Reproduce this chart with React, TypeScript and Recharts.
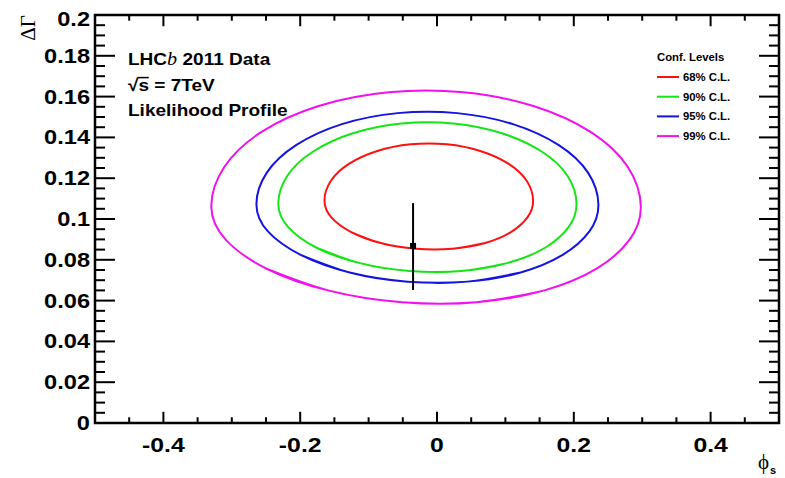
import React from 'react';
import {
  ComposedChart,
  Line,
  Scatter,
  XAxis,
  YAxis,
  ReferenceLine,
  ReferenceArea,
  ErrorBar,
} from 'recharts';

// ---- contour points (phi_s, DeltaGamma) for each confidence level ----
// Each loop is traced once around and then runs a few points past its start,
// so the smooth curve has no visible seam where it closes.
const contour68: [number, number][] = [
  [-0.1255, 0.0936], [-0.0823, 0.0882], [-0.0307, 0.0854], [0.0223, 0.0854],
  [0.0703, 0.0882], [0.1081, 0.0936], [0.1322, 0.1008], [0.1405, 0.109],
  [0.1313, 0.1186], [0.1048, 0.127], [0.0643, 0.1332], [0.0145, 0.1366],
  [-0.0385, 0.1366], [-0.0883, 0.1332], [-0.1288, 0.127], [-0.1553, 0.1186],
  [-0.1645, 0.109], [-0.1544, 0.1008], [-0.1255, 0.0936], [-0.0823, 0.0882],
  [-0.0307, 0.0854], [0.0223, 0.0854], [0.0703, 0.0882],
];
const contour90: [number, number][] = [
  [-0.176, 0.0859], [-0.114, 0.0785], [-0.0403, 0.0745], [0.0355, 0.0745],
  [0.104, 0.0785], [0.158, 0.0859], [0.1924, 0.096], [0.204, 0.1074],
  [0.191, 0.1211], [0.153, 0.1331], [0.095, 0.142], [0.0239, 0.1468],
  [-0.0519, 0.1468], [-0.123, 0.142], [-0.181, 0.1331], [-0.219, 0.1211],
  [-0.232, 0.1074], [-0.2176, 0.096], [-0.176, 0.0859], [-0.114, 0.0785],
  [-0.0403, 0.0745], [0.0355, 0.0745], [0.104, 0.0785],
];
const contour95: [number, number][] = [
  [-0.1993, 0.0824], [-0.1277, 0.0738], [-0.0429, 0.0693], [0.0441, 0.0693],
  [0.1223, 0.0738], [0.1837, 0.0824], [0.2228, 0.0939], [0.236, 0.107],
  [0.221, 0.1226], [0.1775, 0.1363], [0.111, 0.1465], [0.0295, 0.1519],
  [-0.0575, 0.1519], [-0.139, 0.1465], [-0.2055, 0.1363], [-0.249, 0.1226],
  [-0.264, 0.107], [-0.2472, 0.0939], [-0.1993, 0.0824], [-0.1277, 0.0738],
  [-0.0429, 0.0693], [0.0441, 0.0693], [0.1223, 0.0738],
];
const contour99: [number, number][] = [
  [-0.2482, 0.0755], [-0.158, 0.0649], [-0.0512, 0.0592], [0.058, 0.0592],
  [0.156, 0.0649], [0.2328, 0.0755], [0.2813, 0.0898], [0.298, 0.106],
  [0.279, 0.1255], [0.2245, 0.1427], [0.141, 0.1554], [0.0386, 0.1621],
  [-0.0706, 0.1621], [-0.173, 0.1554], [-0.2565, 0.1427], [-0.311, 0.1255],
  [-0.33, 0.106], [-0.3087, 0.0898], [-0.2482, 0.0755], [-0.158, 0.0649],
  [-0.0512, 0.0592], [0.058, 0.0592], [0.156, 0.0649],
];

const levelLabels = ['68% C.L.', '90% C.L.', '95% C.L.', '99% C.L.'];
const levelColors = ['#ff1010', '#14e614', '#1414e0', '#f010f0'];
const levelContours = [contour68, contour90, contour95, contour99];

// ---- best fit point with its DeltaGamma uncertainty ----
const bestPhi = [-0.035];
const bestDGamma = [0.0868];
const errDown = [0.0216];
const errUp = [0.021];

// ---- axis ticks ----
const xLabelTicks = [-0.4, -0.2, 0, 0.2, 0.4];
const xTickMarks = [
  -0.45, -0.4, -0.35, -0.3, -0.25, -0.2, -0.15, -0.1, -0.05, 0,
  0.05, 0.1, 0.15, 0.2, 0.25, 0.3, 0.35, 0.4, 0.45,
];
const yLabelTicks = [0, 0.02, 0.04, 0.06, 0.08, 0.1, 0.12, 0.14, 0.16, 0.18, 0.2];
const yTickMarks = [
  0.005, 0.01, 0.015, 0.02, 0.025, 0.03, 0.035, 0.04, 0.045, 0.05,
  0.055, 0.06, 0.065, 0.07, 0.075, 0.08, 0.085, 0.09, 0.095, 0.1,
  0.105, 0.11, 0.115, 0.12, 0.125, 0.13, 0.135, 0.14, 0.145, 0.15,
  0.155, 0.16, 0.165, 0.17, 0.175, 0.18, 0.185, 0.19, 0.195,
];

const X_MIN = -0.5;
const X_MAX = 0.5;
const Y_MIN = 0;
const Y_MAX = 0.2;

const W = 785;
const H = 478;
const SANS = '"Liberation Sans", Arial, Helvetica, sans-serif';
const SERIF = '"Liberation Serif", "Times New Roman", serif';
const STRETCH = 1.18;

// tick lengths in data units
const X_TICK_MAJOR = 0.0055;
const X_TICK_MINOR = 0.0028;
const Y_TICK_MAJOR = 0.0292;
const Y_TICK_MINOR = 0.0146;

const series = levelLabels.map((name, i) => ({
  name,
  color: levelColors[i],
  data: levelContours[i].map(([x, y]) => ({ x, y })),
}));

const pointData = bestPhi.map((x, i) => ({
  x,
  y: bestDGamma[i],
  err: [errDown[i], errUp[i]],
}));

const XTick = (props: any) => {
  const { x, y, payload } = props;
  return (
    <g transform={`translate(${x},${y + 29}) scale(${STRETCH},1)`}>
      <text x={0} y={0} textAnchor="middle" fontFamily={SANS} fontWeight="bold" fontSize={21} fill="#000">
        {String(payload.value)}
      </text>
    </g>
  );
};

const YTick = (props: any) => {
  const { x, y, payload } = props;
  const dy = payload.value === Y_MAX ? 11 : 7;
  return (
    <g transform={`translate(${x - 5},${y + dy}) scale(${STRETCH},1)`}>
      <text x={0} y={0} textAnchor="end" fontFamily={SANS} fontWeight="bold" fontSize={20} fill="#000">
        {String(payload.value)}
      </text>
    </g>
  );
};

const renderSquare = (props: any) => {
  const { cx, cy } = props;
  return <rect x={cx - 3} y={cy - 3} width={6} height={6} fill="#000" />;
};

export default function App() {
  const tickLines: React.ReactNode[] = [];
  xTickMarks.forEach((v) => {
    const len = xLabelTicks.includes(v) ? X_TICK_MAJOR : X_TICK_MINOR;
    tickLines.push(
      <ReferenceLine key={`xb${v}`} ifOverflow="visible" stroke="#000" strokeWidth={2}
        segment={[{ x: v, y: Y_MIN }, { x: v, y: Y_MIN + len }]} />,
      <ReferenceLine key={`xt${v}`} ifOverflow="visible" stroke="#000" strokeWidth={2}
        segment={[{ x: v, y: Y_MAX }, { x: v, y: Y_MAX - len }]} />
    );
  });
  yTickMarks.forEach((v) => {
    const len = yLabelTicks.includes(v) ? Y_TICK_MAJOR : Y_TICK_MINOR;
    tickLines.push(
      <ReferenceLine key={`yl${v}`} ifOverflow="visible" stroke="#000" strokeWidth={2}
        segment={[{ x: X_MIN, y: v }, { x: X_MIN + len, y: v }]} />,
      <ReferenceLine key={`yr${v}`} ifOverflow="visible" stroke="#000" strokeWidth={2}
        segment={[{ x: X_MAX, y: v }, { x: X_MAX - len, y: v }]} />
    );
  });

  return (
    <div style={{ position: 'absolute', left: 0, top: 0, width: W, height: H, background: '#fff' }}>
      <ComposedChart width={W} height={H} margin={{ top: 15, right: 6, bottom: 0, left: 0 }}>
        <XAxis
          type="number"
          dataKey="x"
          domain={[X_MIN, X_MAX]}
          ticks={xLabelTicks}
          interval={0}
          tick={<XTick />}
          tickLine={false}
          axisLine={false}
          tickSize={0}
          tickMargin={0}
          height={55}
          allowDataOverflow
        />
        <YAxis
          type="number"
          dataKey="y"
          domain={[Y_MIN, Y_MAX]}
          ticks={yLabelTicks}
          interval={0}
          tick={<YTick />}
          tickLine={false}
          axisLine={false}
          tickSize={0}
          tickMargin={0}
          width={95}
          allowDataOverflow
        />
        {series.map((s) => (
          <Line
            key={s.name}
            name={s.name}
            data={s.data}
            dataKey="y"
            type="natural"
            stroke={s.color}
            strokeWidth={2}
            dot={false}
            activeDot={false}
            isAnimationActive={false}
          />
        ))}
        <Scatter data={pointData} dataKey="y" shape={renderSquare} isAnimationActive={false}>
          <ErrorBar dataKey="err" direction="y" width={0} stroke="#000" strokeWidth={2} />
        </Scatter>
        {tickLines}
        <ReferenceArea
          x1={X_MIN}
          x2={X_MAX}
          y1={Y_MIN}
          y2={Y_MAX}
          ifOverflow="visible"
          fill="none"
          fillOpacity={0}
          stroke="#000"
          strokeWidth={2.5}
        />
      </ComposedChart>
      <svg
        width={W}
        height={H}
        style={{ position: 'absolute', left: 0, top: 0, pointerEvents: 'none' }}
      >
        {/* axis titles */}
        <text
          transform="translate(35,15) rotate(-90)"
          textAnchor="end"
          fontFamily={SERIF}
          fontSize={21}
          fill="#000"
        >
          ΔΓ
        </text>
        <text x={758} y={469} fontFamily={SERIF} fontSize={21} fill="#000">ϕ</text>
        <text x={770} y={474} fontFamily={SANS} fontWeight="bold" fontSize={11} fill="#000">s</text>

        {/* experiment annotation */}
        <g transform={`translate(128,65) scale(1.12,1)`} fontFamily={SANS} fontWeight="bold" fontSize={17} fill="#000">
          <text x={0} y={0}>
            LHC
            <tspan fontFamily={SERIF} fontStyle="italic" fontWeight="normal" fontSize={18}>b</tspan>
            <tspan> 2011 Data</tspan>
          </text>
          <text x={0} y={26}>√s = 7TeV</text>
          <line x1={8.5} x2={18.5} y1={12.6} y2={12.6} stroke="#000" strokeWidth={1.5} />
          <text x={0} y={51}>Likelihood Profile</text>
        </g>

        {/* legend */}
        <g transform="translate(657,61) scale(1.08,1)" fontFamily={SANS} fontWeight="bold" fontSize={10.5} fill="#000">
          <text x={0} y={0}>Conf. Levels</text>
        </g>
        {series.map((s, i) => (
          <g key={s.name}>
            <line x1={657} x2={679} y1={77 + i * 19.7} y2={77 + i * 19.7} stroke={s.color} strokeWidth={2} />
            <g transform={`translate(683,${81 + i * 19.7}) scale(1.08,1)`}>
              <text x={0} y={0} fontFamily={SANS} fontWeight="bold" fontSize={10.5} fill="#000">{s.name}</text>
            </g>
          </g>
        ))}
      </svg>
    </div>
  );
}
